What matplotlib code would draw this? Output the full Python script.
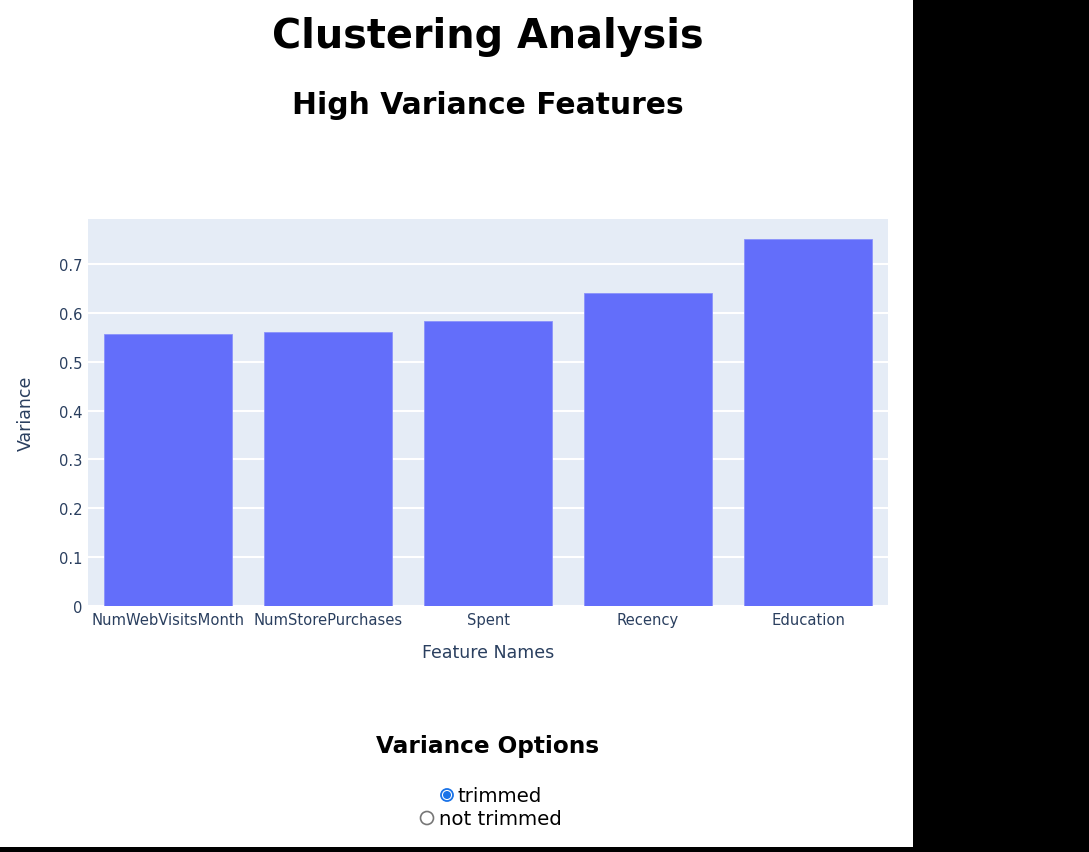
import matplotlib.pyplot as plt
from matplotlib.patches import Rectangle, Circle

features = ["NumWebVisitsMonth", "NumStorePurchases", "Spent", "Recency", "Education"]
variance = [0.557, 0.561, 0.584, 0.640, 0.751]
y_ticks = [0, 0.1, 0.2, 0.3, 0.4, 0.5, 0.6, 0.7]
y_tick_labels = ["0", "0.1", "0.2", "0.3", "0.4", "0.5", "0.6", "0.7"]
options = ["trimmed", "not trimmed"]

W, H = 1089, 853
fig = plt.figure(figsize=(W / 100, H / 100), dpi=100)
fig.patch.set_facecolor("black")

# white page area
page = fig.add_axes([0, 0, 1, 1])
page.set_xlim(0, W)
page.set_ylim(H, 0)
page.axis("off")
page.add_patch(Rectangle((0, 0), 913, 848, facecolor="white", edgecolor="none"))

page.text(488, 37, "Clustering Analysis", ha="center", va="center",
          fontsize=28.6, fontweight="bold", color="black")
page.text(488, 105, "High Variance Features", ha="center", va="center",
          fontsize=21.4, fontweight="bold", color="black")

# bar chart
x0, x1, y0, y1 = 88, 888, 220, 607
ax = fig.add_axes([x0 / W, 1 - y1 / H, (x1 - x0) / W, (y1 - y0) / H])
ax.set_facecolor("#e5ecf6")
ax.bar(range(len(features)), variance, width=0.8, color="#636efa",
       edgecolor="#8a92fb", linewidth=0.6, zorder=3)
ax.set_xlim(-0.5, len(features) - 0.5)
ax.set_ylim(0, 0.792)
ax.set_yticks(y_ticks)
ax.set_yticklabels(y_tick_labels)
ax.set_xticks(range(len(features)))
ax.set_xticklabels(features)
ax.grid(axis="y", color="white", linewidth=1.5, zorder=1)
ax.set_axisbelow(True)
for s in ax.spines.values():
    s.set_visible(False)
ax.tick_params(length=0, labelsize=10.6, colors="#2a3f5f", pad=4)
ax.set_xlabel("Feature Names", fontsize=12.5, color="#2a3f5f", labelpad=12)
ax.set_ylabel("Variance", fontsize=12.5, color="#2a3f5f", labelpad=17)

# radio options
page.text(488, 746, "Variance Options", ha="center", va="center",
          fontsize=16.7, fontweight="bold", color="black")
page.add_patch(Circle((447, 796), 6, facecolor="white", edgecolor="#1a73e8", linewidth=1.3))
page.add_patch(Circle((447, 796), 4, facecolor="#1a73e8", edgecolor="none"))
page.text(458, 797, options[0], ha="left", va="center", fontsize=14.2, color="black")
page.add_patch(Circle((427, 819), 6.5, facecolor="white", edgecolor="#767676", linewidth=1.2))
page.text(439, 820, options[1], ha="left", va="center", fontsize=14.2, color="black")

fig.savefig("out.png", dpi=100, facecolor="black")
